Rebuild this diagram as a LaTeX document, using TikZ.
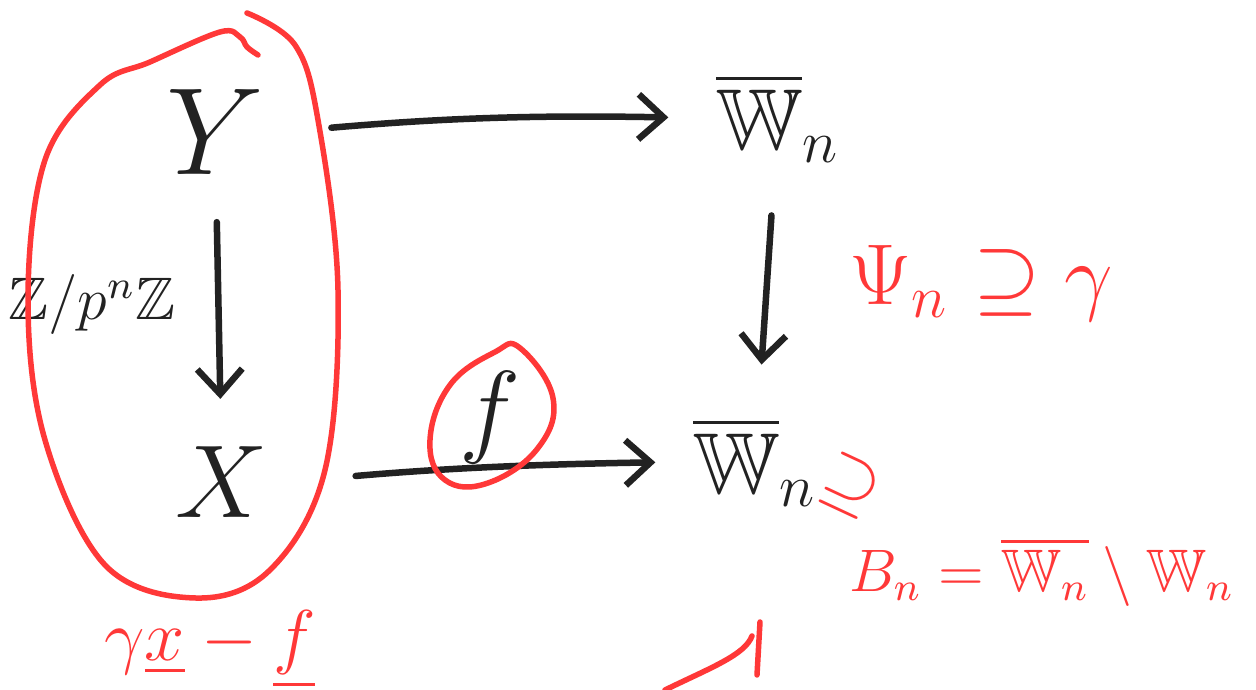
\documentclass[tikz,border=0pt]{standalone}
\usepackage{amsmath,amssymb}
\usepackage{xcolor}
\usepackage{tikz}
\usetikzlibrary{arrows.meta,positioning}
\definecolor{inkc}{HTML}{222222}
\definecolor{penr}{HTML}{FF3838}
\tikzset{
  ar/.style={-{Straight Barb[length=5pt,width=9pt]},line width=1.3pt,inkc,line cap=round},
  rd/.style={line width=1.1pt,penr,line cap=round,line join=round}
}

\begin{document}
\begin{tikzpicture}[x=0.2pt,y=-0.2pt]
\useasboundingbox (0,0) rectangle (1256,690);
\node[inkc,font=\Huge] (y) at (215,132) {$Y$};
\node[inkc,font=\huge] (x) at (222,482) {$X$};
\node[inkc,font=\large] (zp) at (92,305) {$\mathbb{Z}/p^n\mathbb{Z}$};
\node[inkc,font=\LARGE] (wt) at (778,118) {$\overline{\mathbb{W}}_n$};
\node[inkc,font=\LARGE] (wb) at (755,462) {$\overline{\mathbb{W}}_n$};
\node[inkc,font=\huge] (f) at (490,418) {$f$};
\draw[ar] (y) -- (x) [shorten <=6pt,shorten >=6pt];
\draw[ar] (y.east) to[bend left=3] (wt.west) [shorten <=10pt,shorten >=6pt];
\draw[ar] (wt) -- (wb) [shorten <=7pt,shorten >=7pt];
\draw[ar] (x.east) to[bend left=2] (wb.west) [shorten <=14pt,shorten >=4pt];
% red notes
\draw[rd] plot[smooth,tension=0.6] coordinates {(247,13) (295,45) (318,120) (338,290) (325,470) (270,570) (195,598) (105,565) (45,440) (28,300) (45,160) (100,85) (150,62) (220,32) (240,37) (247,47) (258,55)};
\draw[rd] plot[smooth cycle,tension=0.7] coordinates {(520,348) (553,398) (538,448) (488,483) (445,480) (430,440) (450,385) (495,352)};
\node[penr,font=\LARGE,anchor=west] (psi) at (832,283) {$\Psi_n\supseteq\gamma$};
\node[penr,font=\Large,rotate=-25] (sup) at (850,486) {$\supseteq$};
\node[penr,font=\large,anchor=east] (bn) at (1252,572) {$B_n=\overline{\mathbb{W}_n}\setminus\mathbb{W}_n$};
\node[penr,font=\Large] (gx) at (210,650) {$\gamma\underline{x}-\underline{f}$};
\draw[rd] (665,690) .. controls (710,668) and (745,655) .. (752,636);
\draw[rd] (760,622) -- (757,675);
\end{tikzpicture}
\end{document}
